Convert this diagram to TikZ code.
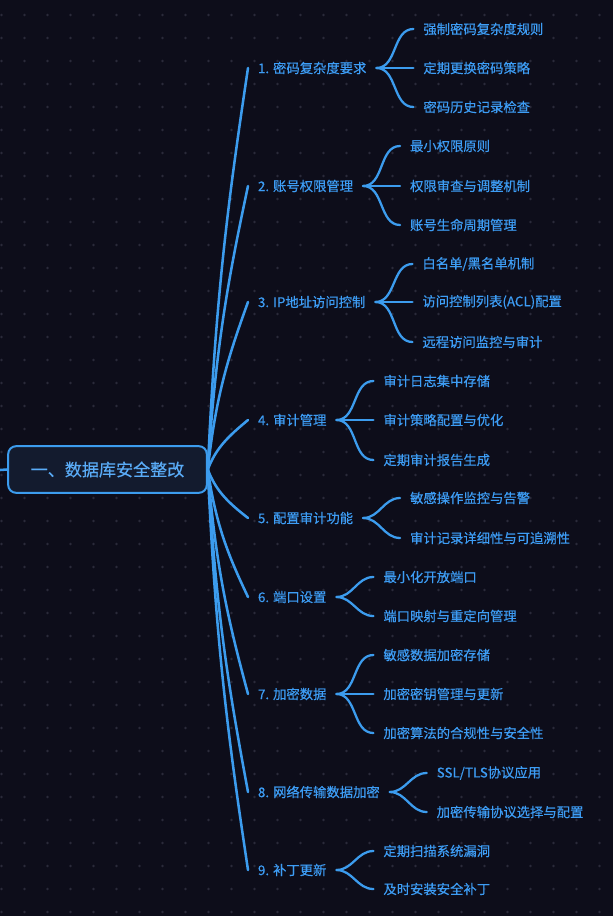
\documentclass[tikz,border=0pt]{standalone}
\usepackage{fontspec}
\setmainfont[FakeBold=0.35]{Noto Sans CJK SC}
\usetikzlibrary{calc}
\definecolor{bgc}{HTML}{0D0D1A}
\definecolor{dotc}{HTML}{2A2A3A}
\definecolor{linec}{HTML}{3C9CEE}
\definecolor{textc}{HTML}{3D9DF5}
\definecolor{rootfill}{HTML}{131B2E}
\tikzset{
	limb/.style={draw=linec,line width=1.9pt,line cap=round},
	twig/.style={draw=linec,line width=1.7pt,line cap=round},
	topic/.style={text=textc,font=\fontsize{10}{12}\selectfont,inner sep=0pt,outer xsep=7.5pt,anchor=west},
	rootbox/.style={draw=linec,line width=1.5pt,fill=rootfill,rounded corners=6pt,text=textc!85!white,font=\fontsize{12.8}{15}\selectfont,minimum width=149pt,minimum height=35pt,inner sep=0pt}
}
\begin{document}
\begin{tikzpicture}[x=0.75pt,y=-0.75pt]
		\useasboundingbox (0,0) rectangle (613,916);
		\fill[bgc] (0,0) rectangle (613,916);
		% dotted background
		\foreach \i in {0,...,26} \foreach \j in {0,...,39} \fill[dotc] (1.5+23*\i,15+23*\j) circle (1.1pt);
		% root
		\node[rootbox] (root) at (107.5,469.5) {一、数据库安全整改};
		\coordinate (rootin) at (0,470);
		\draw[limb] (rootin) -- (root.west);
		% first level
		\node[topic] (b1) at (248,68) {1. 密码复杂度要求};
		\node[topic] (b2) at (248,186) {2. 账号权限管理};
		\node[topic] (b3) at (248,302) {3. IP地址访问控制};
		\node[topic] (b4) at (248,420) {4. 审计管理};
		\node[topic] (b5) at (248,518) {5. 配置审计功能};
		\node[topic] (b6) at (248,597) {6. 端口设置};
		\node[topic] (b7) at (248,694) {7. 加密数据};
		\node[topic] (b8) at (248,792) {8. 网络传输数据加密};
		\node[topic] (b9) at (248,870) {9. 补丁更新};
		\draw[limb] (root.east) .. controls +(8,-181) and +(-18,121) .. (b1.west);
		\draw[limb] (root.east) .. controls +(8,-128) and +(-18,85) .. (b2.west);
		\draw[limb] (root.east) .. controls +(8,-76) and +(-18,50) .. (b3.west);
		\draw[limb] (root.east) .. controls +(8,-22) and +(-18,15) .. (b4.west);
		\draw[limb] (root.east) .. controls +(8,22) and +(-18,-14) .. (b5.west);
		\draw[limb] (root.east) .. controls +(8,57) and +(-18,-38) .. (b6.west);
		\draw[limb] (root.east) .. controls +(8,101) and +(-18,-67) .. (b7.west);
		\draw[limb] (root.east) .. controls +(8,145) and +(-18,-97) .. (b8.west);
		\draw[limb] (root.east) .. controls +(8,180) and +(-18,-120) .. (b9.west);
		% leaves
		\node[topic] (b1a) at ($(b1.east)+(37,-39)$) {强制密码复杂度规则};
		\node[topic] (b1b) at ($(b1.east)+(37,0)$) {定期更换密码策略};
		\node[topic] (b1c) at ($(b1.east)+(37,39)$) {密码历史记录检查};
		\node[topic] (b2a) at ($(b2.east)+(37,-40)$) {最小权限原则};
		\node[topic] (b2b) at ($(b2.east)+(37,0)$) {权限审查与调整机制};
		\node[topic] (b2c) at ($(b2.east)+(37,39)$) {账号生命周期管理};
		\node[topic] (b3a) at ($(b3.east)+(37,-38)$) {白名单/黑名单机制};
		\node[topic] (b3b) at ($(b3.east)+(37,0)$) {访问控制列表(ACL)配置};
		\node[topic] (b3c) at ($(b3.east)+(37,40)$) {远程访问监控与审计};
		\node[topic] (b4a) at ($(b4.east)+(37,-39)$) {审计日志集中存储};
		\node[topic] (b4b) at ($(b4.east)+(37,0)$) {审计策略配置与优化};
		\node[topic] (b4c) at ($(b4.east)+(37,40)$) {定期审计报告生成};
		\node[topic] (b5a) at ($(b5.east)+(37,-20)$) {敏感操作监控与告警};
		\node[topic] (b5b) at ($(b5.east)+(37,20)$) {审计记录详细性与可追溯性};
		\node[topic] (b6a) at ($(b6.east)+(37,-20)$) {最小化开放端口};
		\node[topic] (b6b) at ($(b6.east)+(37,19)$) {端口映射与重定向管理};
		\node[topic] (b7a) at ($(b7.east)+(37,-39)$) {敏感数据加密存储};
		\node[topic] (b7b) at ($(b7.east)+(37,0)$) {加密密钥管理与更新};
		\node[topic] (b7c) at ($(b7.east)+(37,39)$) {加密算法的合规性与安全性};
		\node[topic] (b8a) at ($(b8.east)+(37,-19)$) {SSL/TLS协议应用};
		\node[topic] (b8b) at ($(b8.east)+(37,20)$) {加密传输协议选择与配置};
		\node[topic] (b9a) at ($(b9.east)+(37,-19)$) {定期扫描系统漏洞};
		\node[topic] (b9b) at ($(b9.east)+(37,19)$) {及时安装安全补丁};
		\draw[twig] (b1.east) to[out=0,in=180] (b1a.west);
		\draw[twig] (b1.east) -- (b1b.west);
		\draw[twig] (b1.east) to[out=0,in=180] (b1c.west);
		\draw[twig] (b2.east) to[out=0,in=180] (b2a.west);
		\draw[twig] (b2.east) -- (b2b.west);
		\draw[twig] (b2.east) to[out=0,in=180] (b2c.west);
		\draw[twig] (b3.east) to[out=0,in=180] (b3a.west);
		\draw[twig] (b3.east) -- (b3b.west);
		\draw[twig] (b3.east) to[out=0,in=180] (b3c.west);
		\draw[twig] (b4.east) to[out=0,in=180] (b4a.west);
		\draw[twig] (b4.east) -- (b4b.west);
		\draw[twig] (b4.east) to[out=0,in=180] (b4c.west);
		\draw[twig] (b5.east) to[out=0,in=180] (b5a.west);
		\draw[twig] (b5.east) to[out=0,in=180] (b5b.west);
		\draw[twig] (b6.east) to[out=0,in=180] (b6a.west);
		\draw[twig] (b6.east) to[out=0,in=180] (b6b.west);
		\draw[twig] (b7.east) to[out=0,in=180] (b7a.west);
		\draw[twig] (b7.east) -- (b7b.west);
		\draw[twig] (b7.east) to[out=0,in=180] (b7c.west);
		\draw[twig] (b8.east) to[out=0,in=180] (b8a.west);
		\draw[twig] (b8.east) to[out=0,in=180] (b8b.west);
		\draw[twig] (b9.east) to[out=0,in=180] (b9a.west);
		\draw[twig] (b9.east) to[out=0,in=180] (b9b.west);
		\end{tikzpicture}
\end{document}
